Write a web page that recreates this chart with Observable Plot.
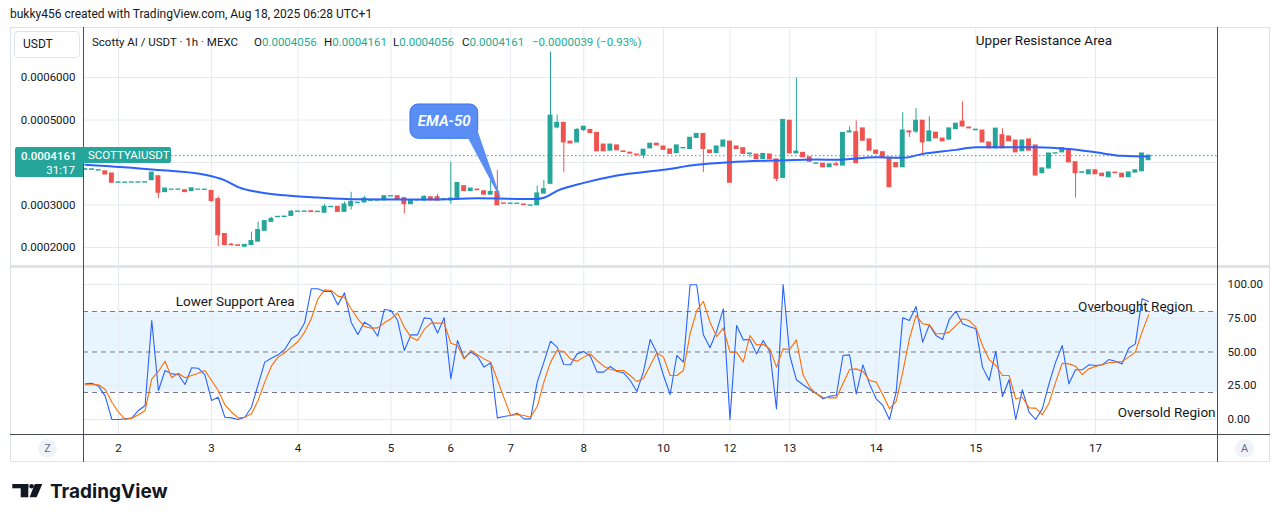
<!DOCTYPE html>
<html><head><meta charset="utf-8">
<script src="https://cdn.jsdelivr.net/npm/d3@7"></script>
<script src="https://cdn.jsdelivr.net/npm/@observablehq/plot@0.6"></script>
<style>
body{margin:0;background:#fff;font-family:Roboto,"Liberation Sans",sans-serif;color:#131722}
#page{position:relative;width:1281px;height:522px;overflow:hidden;background:#fff}
.abs{position:absolute}
.leg{position:absolute;top:35px;font-size:11.5px;line-height:14px;white-space:nowrap;color:#131722}
.v{color:#22ab94}
</style></head><body><div id="page">
<div class="abs" style="left:10px;top:7px;font-size:12px;line-height:14px;white-space:nowrap">bukky456 created with TradingView.com, Aug 18, 2025 06:28 UTC+1</div>
<div class="abs" style="left:10px;top:27px;width:1260px;height:435px;border:1px solid #e0e3eb;box-sizing:border-box"></div>
<div id="priceHost" class="abs" style="left:10px;top:27px"></div>
<div id="oscHost" class="abs" style="left:10px;top:268px"></div>
<div class="abs" style="left:10px;top:265px;width:1260px;height:3px;background:#e0e3eb"></div>
<div class="abs" style="left:83px;top:27px;width:1px;height:435px;background:#4a4d57"></div>
<div class="abs" style="left:1217px;top:27px;width:1px;height:435px;background:#4a4d57"></div>
<div class="abs" style="left:10px;top:434px;width:1260px;height:1px;background:#4a4d57"></div>
<div class="abs" style="left:14px;top:31px;width:66px;height:27px;border:1px solid #e0e3eb;border-radius:4px;box-sizing:border-box;background:#fff;font-size:12px;line-height:25px;padding-left:8px">USDT</div>
<div class="leg" style="left:92px">Scotty AI / USDT · 1h · MEXC</div>
<div class="leg" style="left:254px">O<span class="v">0.0004056</span></div>
<div class="leg" style="left:324px">H<span class="v">0.0004161</span></div>
<div class="leg" style="left:393px">L<span class="v">0.0004056</span></div>
<div class="leg" style="left:462px">C<span class="v">0.0004161</span></div>
<div class="leg v" style="left:532px">−0.0000039 (−0.93%)</div>
<div id="lblPrice" class="abs" style="left:15px;width:68px;height:30px;background:#26a69a;color:#fff;font-size:11.5px;border-radius:2px 0 0 2px">
  <div style="position:absolute;left:6px;top:2px;line-height:14px;font-weight:500">0.0004161</div>
  <div style="position:absolute;right:8px;top:16px;line-height:14px">31:17</div>
</div>
<div id="lblSym" class="abs" style="left:83px;width:88px;height:16px;background:#26a69a;color:#fff;font-size:11.5px;line-height:16px;padding-left:5px;box-sizing:border-box;border-radius:0 2px 2px 0">SCOTTYAIUSDT</div>
<div class="abs" style="left:38px;top:439px;width:19px;height:19px;border-radius:50%;background:#f0f3fa;color:#6a6d78;font-size:11px;line-height:19px;text-align:center">Z</div>
<div class="abs" style="left:1235px;top:439px;width:19px;height:19px;border-radius:50%;background:#f0f3fa;color:#6a6d78;font-size:11px;line-height:19px;text-align:center">A</div>
<svg class="abs" style="left:0;top:470px" width="220" height="40">
  <rect x="12.3" y="14" width="16" height="4.3" fill="#131722"/>
  <rect x="20.7" y="14" width="7.6" height="13.3" fill="#131722"/>
  <circle cx="31.6" cy="16.2" r="2.3" fill="#131722"/>
  <polygon points="34.8,14 42.3,14 36.6,27.3 29.6,27.3" fill="#131722"/>
  <text x="50" y="27.5" font-family="Inter, Roboto, sans-serif" font-size="19" font-weight="700" fill="#131722">TradingView</text>
</svg>
</div>
<script>
// ---- data (prices in units of 1e-7 USDT) ----
const openE7 = [3830,3830,3812,3790,3740,3525,3525,3527,3528,3530,
 3585,3675,3305,3360,3360,3345,3330,3360,3358,3330,
 3135,2315,2065,2050,2020,2060,2140,2395,2605,2715,
 2720,2745,2840,2842,2850,2835,2820,2950,2955,2840,
 2975,3048,3060,3100,3105,3110,3203,3205,3160,3022,
 3108,3105,3180,3180,3133,3110,3135,3440,3330,3360,
 3320,3245,3305,3035,3028,3028,3010,2985,2995,3270,
 3500,4825,4930,4490,4475,4765,4765,4695,4420,4280,
 4400,4260,4230,4185,4165,4335,4440,4375,4305,4225,
 4335,4320,4580,4670,4280,4225,4375,4490,4375,4335,
 4200,4185,4085,4185,4070,3640,4980,4215,4225,4120,
 3970,3970,3890,3955,3930,4710,4710,4800,4540,4280,
 4240,4100,3985,3890,4730,4730,4980,4500,4700,4560,
 4540,4790,4960,4820,4760,4750,4470,4335,4640,4610,
 4515,4265,4540,4400,3750,3860,4210,4240,4300,4005,
 3760,3725,3815,3735,3655,3760,3735,3655,3765,3795,
 4056];
const highE7 = [3840,3838,3818,3790,3740,3530,3528,3530,3532,3535,
 3760,3675,3385,3362,3362,3345,3390,3362,3360,3330,
 3190,2315,2095,2050,2060,2360,2600,2620,2710,2720,
 2725,2870,2845,2846,2850,2840,3010,2955,2955,3070,
 3300,3052,3200,3105,3110,3205,3207,3205,3160,3110,
 3112,3215,3180,3250,3137,4005,3515,3440,3385,3360,
 3320,3580,3815,3035,3032,3032,3010,2990,3445,3580,
 6600,5115,4930,4490,4800,4840,4765,4695,4420,4420,
 4400,4260,4230,4185,4300,4440,4440,4375,4305,4400,
 4340,4580,4670,4670,4280,4375,4515,4490,4375,4335,
 4210,4185,4200,4185,4070,5000,4980,5990,4225,4120,
 3975,3970,3955,4010,4695,4840,4980,4800,4540,4280,
 4240,4100,3985,5170,4730,5270,4980,5075,4700,4560,
 4800,4910,5425,4820,4770,4750,4470,4795,4795,4610,
 4515,4515,4540,4400,3860,4210,4215,4335,4300,4005,
 3770,3815,3815,3735,3765,3760,3735,3765,3815,4210,
 4161];
const lowE7 = [3830,3830,3812,3720,3525,3525,3525,3527,3528,3530,
 3585,3150,3305,3360,3360,3305,3330,3360,3358,3065,
 2020,2060,2055,2040,2020,2060,2140,2395,2605,2715,
 2720,2745,2840,2842,2835,2835,2820,2950,2840,2840,
 2880,3048,3060,3100,3105,3110,3203,3140,2790,3022,
 3108,3105,3110,3105,3133,3010,3135,3330,3330,3350,
 3245,3245,2995,3030,3028,3028,3000,2985,2995,3270,
 3500,4790,3760,4450,4475,4725,4695,4265,4265,4280,
 4290,4250,4210,4175,4085,4335,4405,4300,4205,4225,
 4335,4320,4580,3760,4225,4225,4375,3525,4320,4205,
 4110,4080,4085,4080,3550,3640,4215,4215,4125,4020,
 3970,3890,3890,3935,3930,4710,3985,4515,4280,4205,
 4110,3420,3890,3890,4590,4685,4150,4500,4570,4500,
 4540,4790,4850,4805,4760,4475,4335,4335,4335,4500,
 4240,4265,4280,3695,3750,3860,4210,4240,4005,3165,
 3760,3725,3725,3680,3655,3750,3655,3655,3765,3795,
 4056];
const closeE7 = [3840,3838,3818,3720,3525,3530,3528,3530,3532,3535,
 3760,3290,3385,3362,3362,3305,3390,3362,3360,3095,
 2290,2060,2055,2040,2060,2150,2410,2620,2670,2720,
 2725,2840,2845,2846,2835,2840,2955,2955,2840,3010,
 3070,3052,3150,3105,3110,3205,3207,3140,3022,3110,
 3112,3190,3110,3105,3137,3150,3515,3330,3385,3350,
 3245,3305,2995,3030,3032,3032,3000,2990,3270,3370,
 5100,4930,4475,4450,4765,4840,4695,4265,4265,4420,
 4290,4250,4210,4175,4300,4440,4405,4300,4205,4400,
 4340,4580,4670,4320,4225,4375,4515,3525,4320,4205,
 4210,4080,4200,4080,3620,5000,4215,4255,4125,4020,
 3975,3890,3955,3935,4695,4730,3985,4515,4280,4205,
 4110,3420,3890,4750,4710,4980,4475,4730,4570,4500,
 4800,4910,4850,4805,4770,4475,4335,4795,4335,4500,
 4240,4515,4280,3695,3860,4210,4215,4335,4005,3750,
 3770,3815,3725,3680,3765,3750,3655,3765,3815,4210,
 4161];
// EMA-50 read at selected bars
const emaIdx = [0,10,18,21,23,26,30,35,40,52,59,68,69,71,75,80,87,92,97,104,110,113,119,123,126,131,134,143,148,152,156,160];
const emaE7  = [3946,3836,3712,3579,3422,3305,3228,3174,3135,3128,3158,3142,3170,3333,3520,3696,3829,3946,4007,4047,4070,4063,4124,4110,4203,4297,4358,4358,4320,4241,4157,4140];
// Stochastic %K and %D
const stochK = [26.4,26.9,24.7,17.3,0,0,0.5,1,6.7,10.4,
 73.3,21.5,36.3,33.8,33.3,25.9,38.3,38,33.1,14.1,
 16.5,1.7,1.2,0,1.7,9.1,25.7,42.5,45.4,47.9,
 51.9,59.8,63,71.6,96.8,96.8,94.8,94.8,84.9,93.8,
 72.1,63,72.1,69.1,61.7,81.5,80.7,73.3,51.1,62.7,
 62.7,75.3,74.6,64,75.3,30.1,58.5,45.4,49.9,46.9,
 38.8,42,1.2,2.2,3,4.7,0.5,0.5,27.7,42.5,
 58,53.6,40.7,40.5,48.6,50.4,46.9,35.1,35.1,39.3,
 35.6,34.6,28.9,20.7,35.6,59.3,49.4,32.6,18.5,47.4,
 42.5,99.8,99.8,62.7,53.1,65.4,82,0,69.6,59,
 59.3,48.6,58.5,50.4,7.9,100,47.4,29.4,25.7,22.2,
 19.3,15.3,17.3,17.8,47.4,47.9,19,40.5,26.4,15.3,
 10.4,0,20.2,75.3,73.3,83.7,57.3,70.1,62.2,59.3,
 74.1,80.2,70.9,68.9,67.2,38.8,28.9,50.6,17,29.4,
 0,22,5.4,0,7.9,26.4,42.5,54.8,26.4,36.8,
 36.8,40.5,40,40.5,44.4,43.2,41.2,52.8,56,89.4,
 87.4];
const stochD = [25.7,25.7,25.7,22.2,12.8,5.4,0,1,3.5,6.7,
 30.1,35.6,43.2,30.9,34.3,30.9,32.6,34.3,36.3,28.9,
 21.5,10.9,5.4,1.2,1.7,4.2,14.1,27.7,39.5,46.2,
 49.4,53.6,57.8,64.7,74.6,89.4,96,95.6,91.4,90.6,
 82,74.6,68.9,67.7,67.9,71.6,74.6,78.8,68.4,61,
 58.5,66.7,71.4,71.4,71.4,56.5,54.8,44.9,51.1,47.9,
 44.9,42.5,29.4,16,3,3.7,3,1.7,9.6,27.7,
 42.5,51.1,50.4,44.9,43.2,46.2,48.6,43.7,39.5,37,
 36.3,36.3,32.6,28.1,30.6,40,49.4,46.2,32.6,32.6,
 36.3,63.5,80.7,87.4,72.1,61.5,67.7,49.9,49.9,42.5,
 62.2,55.3,55.6,52.3,38.8,52.3,51.9,59,33.1,24,
 19,16.5,16,16,26.4,37,37.5,35.6,28.9,27.7,
 18.3,7.9,13.3,35.1,59.8,77,70.9,70.1,63.5,63.5,
 64.7,69.6,74.6,73.3,68.4,54.8,44.4,40,32.6,32.6,
 15.3,16.5,8.6,8.4,3.5,12.1,27.7,41.7,41.2,39.5,
 33.3,37.5,39.3,40.5,42,42.5,43,46.2,49.9,64.7,
 77.5];
// time axis
const dayIdx = [5,19,32,46,55,64,75,87,97,106,119,134,152];
const dayLabels = ["2","3","4","5","6","7","8","10","12","13","14","15","17"];
const priceTicksE7 = [2000,3000,4000,5000,6000];
const hiddenTickE7 = 4000; // label covered by the last-price tag in the reference
const oscTicks = [0,25,50,75,100];
const oscLevels = [20,50,80];
// annotations
const priceNotes = [{i:144.25, v:6870, text:"Upper Resistance Area"}];
const oscNotes = [{i:22.55, v:87.4, text:"Lower Support Area"},{i:158.0, v:83.7, text:"Overbought Region"},{i:162.7, v:4.7, text:"Oversold Region"}];
const calloutBox = [{x1:48.93, x2:59.12, y1:4558, y2:5365}];
const calloutTail = [{i:57.5, v:4600},{i:59.0, v:4760},{i:62.73, v:3066}];
const calloutText = [{i:54.0, v:4975, text:"EMA-50"}];

// ---- build ----
const SCALE = 1e-7;
const up = "#26a69a", down = "#ef5350", grid = "#e6eaf0";
const candles = openE7.map((o,i)=>({i, open:o*SCALE, high:highE7[i]*SCALE, low:lowE7[i]*SCALE, close:closeE7[i]*SCALE}));
const col = d => d.close >= d.open ? up : down;
const ema = emaIdx.map((i,k)=>({i, v:emaE7[k]*SCALE}));
const stoch = stochK.map((k,i)=>({i, k, d:stochD[i]}));
const xDomain = [-0.271, 170.36];
const lastClose = candles[candles.length-1].close;
const sc = v => v*SCALE;

const priceChart = Plot.plot({
  width:1207, height:238, marginLeft:73, marginRight:0, marginTop:0, marginBottom:0,
  style:{fontFamily:"Roboto, sans-serif", fontSize:"11.5px", color:"#131722", background:"transparent", overflow:"visible"},
  x:{domain:xDomain, axis:null},
  y:{domain:[1576.5*SCALE, 7176.5*SCALE], ticks:priceTicksE7.map(sc), tickFormat:d=>Math.abs(d/SCALE - hiddenTickE7) < 1 ? "" : d.toFixed(7), tickSize:0, tickPadding:8, label:null},
  marks:[
    Plot.ruleY(priceTicksE7.map(sc), {stroke:grid}),
    Plot.ruleX(dayIdx, {stroke:grid}),
    Plot.ruleY([lastClose], {stroke:up, strokeDasharray:"1.5,2.5"}),
    Plot.ruleX(candles, {x:"i", y1:"low", y2:"high", stroke:col, strokeWidth:1}),
    Plot.rect(candles, {x1:d=>d.i-0.37, x2:d=>d.i+0.37, y1:"open", y2:"close", fill:col, insetTop:-0.6, insetBottom:-0.6}),
    Plot.line(ema, {x:"i", y:"v", stroke:"#2962ff", strokeWidth:2, curve:"monotone-x"}),
    Plot.rect(calloutBox, {x1:"x1", x2:"x2", y1:d=>d.y1*SCALE, y2:d=>d.y2*SCALE, fill:"#5b8ef5", stroke:"#3d74ec", strokeWidth:1, rx:8}),
    Plot.line(calloutTail, {x:"i", y:d=>d.v*SCALE, fill:"#5b8ef5", stroke:"none"}),
    Plot.text(calloutText, {x:"i", y:d=>d.v*SCALE, text:"text", fill:"#fff", fontSize:15, fontStyle:"italic", fontWeight:600}),
    Plot.text(priceNotes, {x:"i", y:d=>d.v*SCALE, text:"text", fill:"#131722", fontSize:13.5})
  ]
});
document.getElementById("priceHost").appendChild(priceChart);

const oscChart = Plot.plot({
  width:1260, height:194, marginLeft:73, marginRight:53, marginTop:0, marginBottom:28,
  style:{fontFamily:"Roboto, sans-serif", fontSize:"11.5px", color:"#131722", background:"transparent", overflow:"visible"},
  x:{domain:xDomain, ticks:dayIdx, tickFormat:i=>dayLabels[dayIdx.indexOf(i)], tickSize:0, tickPadding:9, label:null},
  y:{domain:[-11.11, 111.85], axis:"right", ticks:oscTicks, tickFormat:d=>d.toFixed(2), tickSize:0, tickPadding:10, label:null},
  marks:[
    Plot.rect([{lo:oscLevels[0], hi:oscLevels[2]}], {x1:()=>xDomain[0], x2:()=>xDomain[1], y1:"lo", y2:"hi", fill:"rgba(33,150,243,0.1)"}),
    Plot.ruleY(oscTicks.filter(t=>t!==50), {stroke:grid}),
    Plot.ruleX(dayIdx, {stroke:grid}),
    Plot.ruleY(oscLevels, {stroke:"#787b86", strokeDasharray:"5,4"}),
    Plot.line(stoch, {x:"i", y:"k", stroke:"#2962ff", strokeWidth:1.1}),
    Plot.line(stoch, {x:"i", y:"d", stroke:"#ff6d00", strokeWidth:1.1}),
    Plot.text(oscNotes, {x:"i", y:"v", text:"text", fill:"#131722", fontSize:13.5})
  ]
});
document.getElementById("oscHost").appendChild(oscChart);

// current price labels positioned by the price scale
const yPx = 27 + priceChart.scale("y").apply(lastClose);
document.getElementById("lblPrice").style.top = (yPx - 7.8) + "px";
document.getElementById("lblSym").style.top = (yPx - 7.8) + "px";
</script>
</body></html>
